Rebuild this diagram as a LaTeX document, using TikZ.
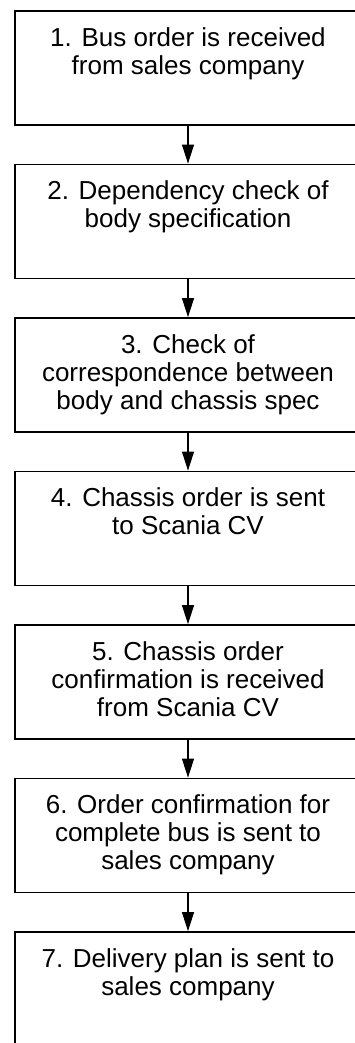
\documentclass[tikz,border=0pt]{standalone}
\usepackage{fontspec}
\setmainfont{Liberation Sans}
\usetikzlibrary{arrows.meta}
\begin{document}
\begin{tikzpicture}[x=1pt,y=-1pt,
  stage/.style={draw, line width=1.8pt, minimum width=346pt, minimum height=114pt, inner sep=0pt},
  caption/.style={anchor=north, align=center, inner sep=0pt, font=\fontsize{26}{28}\selectfont},
  flow/.style={-{Triangle[length=19pt,width=12pt]}, line width=1.1pt}]
\useasboundingbox (0,0) rectangle (355,1043);
\clip (0,0) rectangle (355,1043);

% process boxes (top edge + 57 = centre)
\node[stage] (b1) at (188,68) {};
\node[stage] (b2) at (188,221.5) {};
\node[stage] (b3) at (188,375) {};
\node[stage] (b4) at (188,528.5) {};
\node[stage] (b5) at (188,682) {};
\node[stage] (b6) at (188,835.5) {};
\node[stage] (b7) at (188,989) {};

% step descriptions
\node[caption] (t1) at ([yshift=-17pt]b1.north) {1. Bus order is received\\from sales company};
\node[caption] (t2) at ([yshift=-17pt]b2.north) {2. Dependency check of\\body specification};
\node[caption] (t3) at ([yshift=-17pt]b3.north) {3. Check of\\correspondence between\\body and chassis spec};
\node[caption] (t4) at ([yshift=-17pt]b4.north) {4. Chassis order is sent\\to Scania CV};
\node[caption] (t5) at ([yshift=-17pt]b5.north) {5. Chassis order\\confirmation is received\\from Scania CV};
\node[caption] (t6) at ([yshift=-17pt]b6.north) {6. Order confirmation for\\complete bus is sent to\\sales company};
\node[caption] (t7) at ([yshift=-17pt]b7.north) {7. Delivery plan is sent to\\sales company};

% flow between steps
\draw[flow] (b1.south) -- (b2.north);
\draw[flow] (b2.south) -- (b3.north);
\draw[flow] (b3.south) -- (b4.north);
\draw[flow] (b4.south) -- (b5.north);
\draw[flow] (b5.south) -- (b6.north);
\draw[flow] (b6.south) -- (b7.north);
\end{tikzpicture}
\end{document}
